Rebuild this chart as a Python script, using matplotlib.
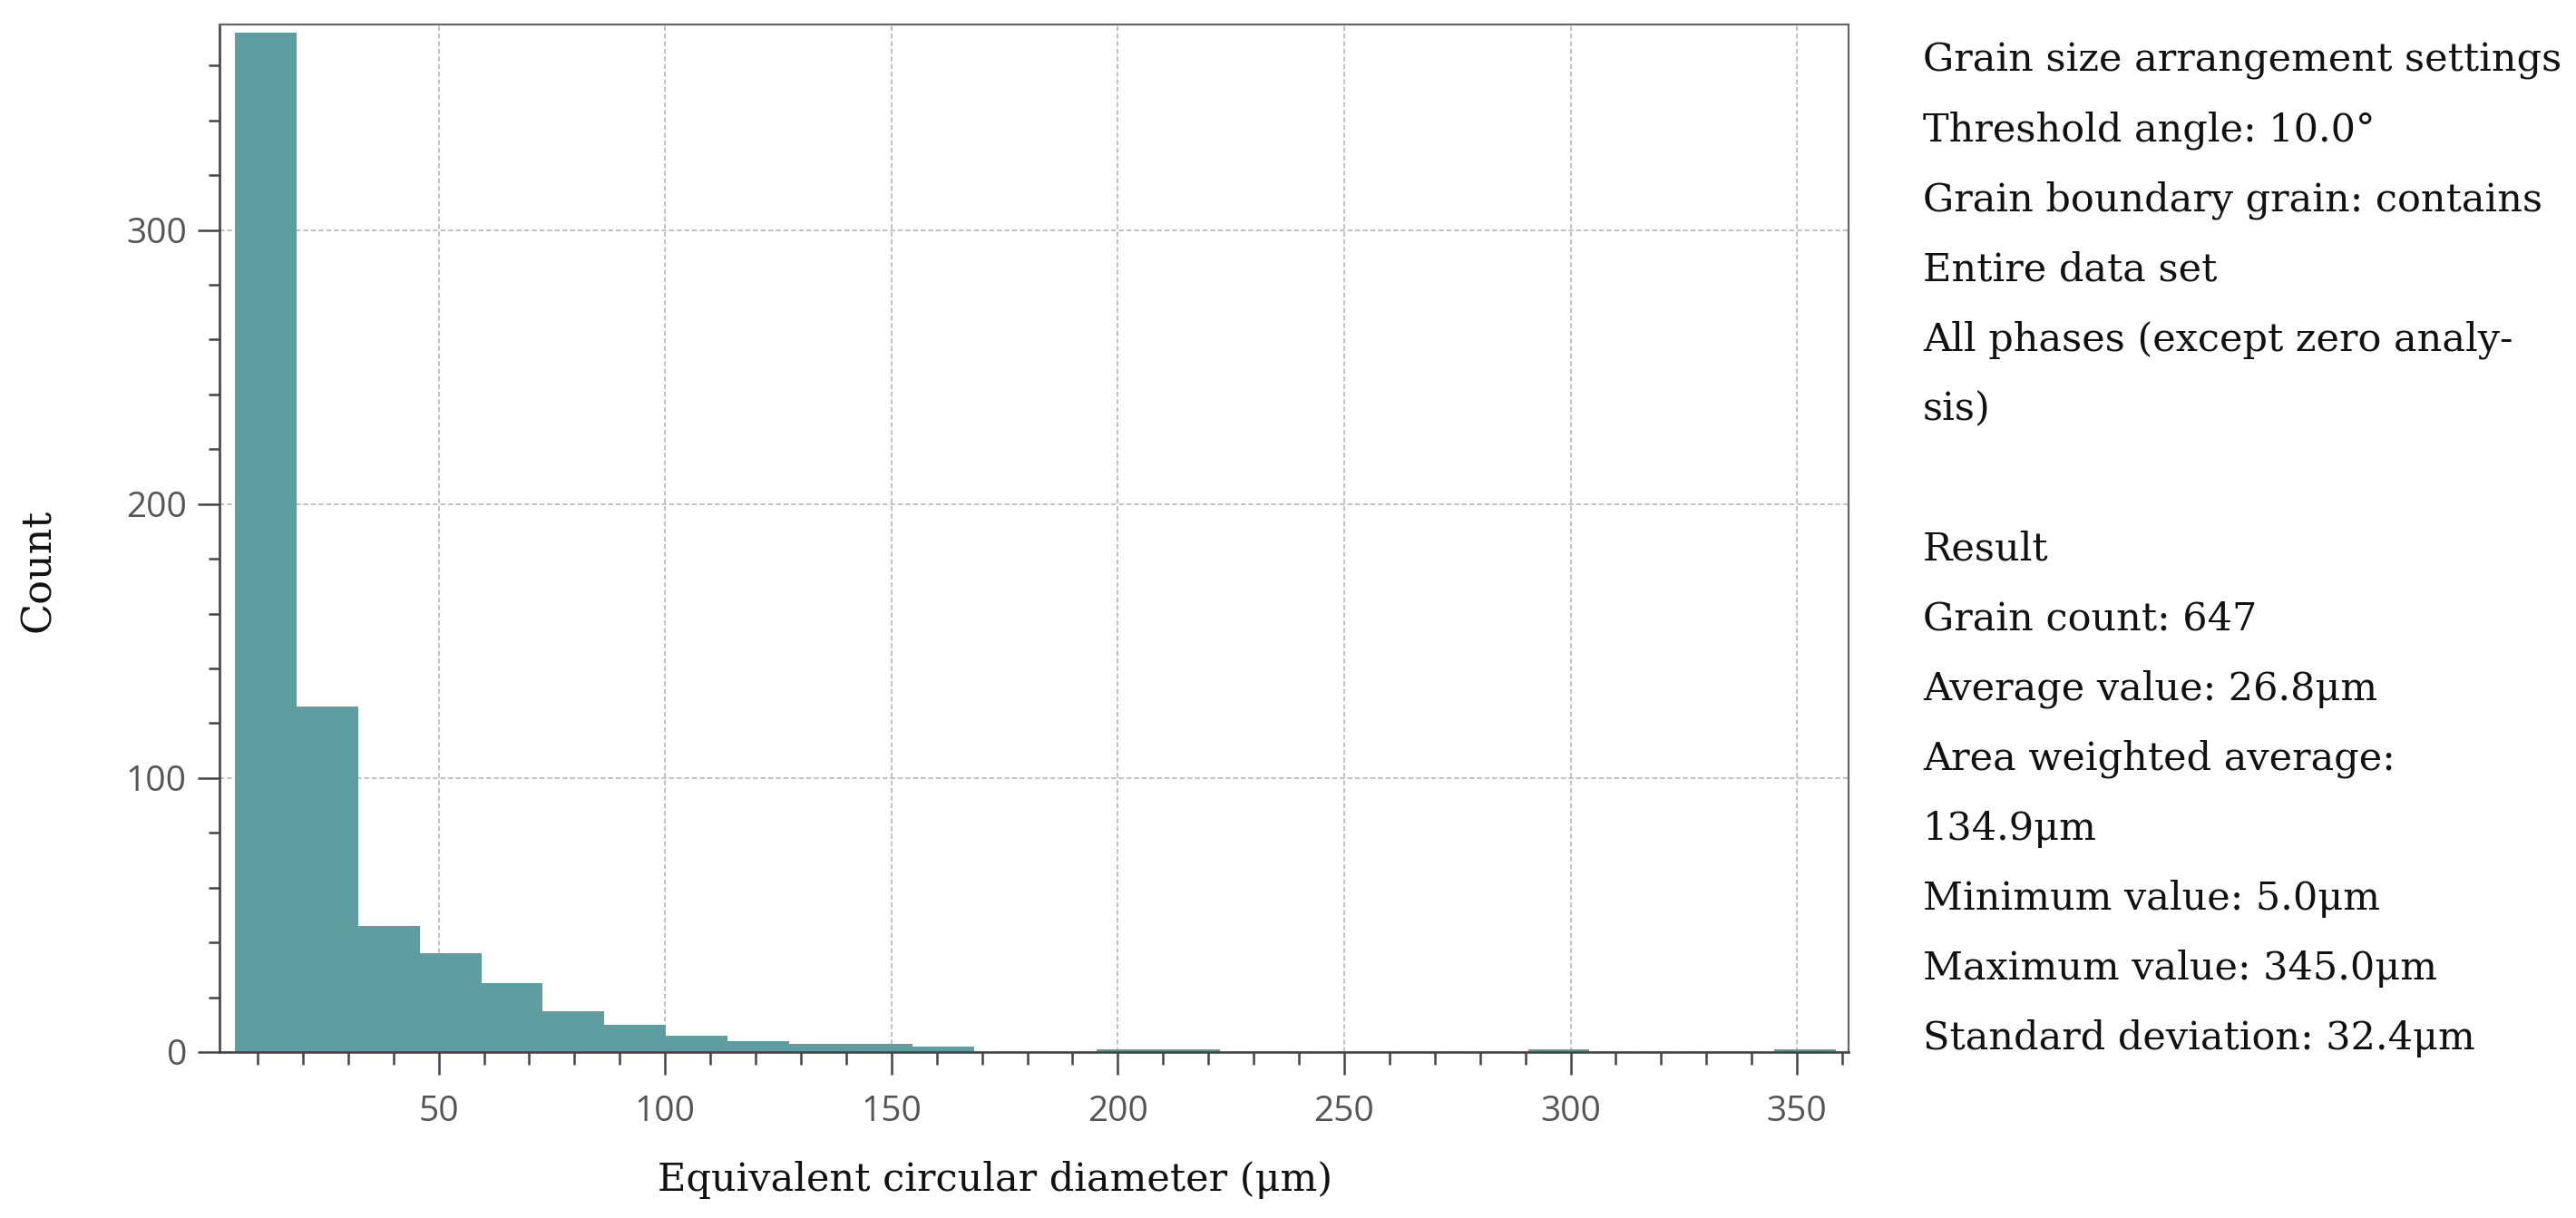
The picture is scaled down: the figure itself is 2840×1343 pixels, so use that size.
import numpy as np
import matplotlib.pyplot as plt
from matplotlib.ticker import MultipleLocator

# histogram of equivalent circular diameter, 26 bins starting at the minimum value
bin_start = 5.0
bin_width = 13.6
counts = [372, 126, 46, 36, 25, 15, 10, 6, 4, 3, 3, 2, 0, 0, 1, 1,
          0, 0, 0, 0, 0, 1, 0, 0, 0, 1]

x_ticks = [50, 100, 150, 200, 250, 300, 350]
y_ticks = [0, 100, 200, 300]

info_lines = [
    "Grain size arrangement settings",
    "Threshold angle: 10.0°",
    "Grain boundary grain: contains",
    "Entire data set",
    "All phases (except zero analy-",
    "sis)",
    "",
    "Result",
    "Grain count: 647",
    "Average value: 26.8μm",
    "Area weighted average:",
    "134.9μm",
    "Minimum value: 5.0μm",
    "Maximum value: 345.0μm",
    "Standard deviation: 32.4μm",
]

W, H = 2840, 1343
fig = plt.figure(figsize=(W / 100, H / 100), dpi=100)
ax = fig.add_axes([242 / W, 1 - 1160 / H, (2038 - 242) / W, (1160 - 27) / H])

edges = bin_start + bin_width * np.arange(len(counts) + 1)
ax.bar(edges[:-1], counts, width=np.diff(edges), align='edge',
       color='#5f9ea0', edgecolor='none', zorder=2)

ax.set_xlim(1.6, 361.4)
ax.set_ylim(0, 375)
ax.set_xticks(x_ticks)
ax.set_yticks(y_ticks)
ax.xaxis.set_minor_locator(MultipleLocator(10))
ax.yaxis.set_minor_locator(MultipleLocator(20))

ax.set_axisbelow(True)
ax.grid(True, which='major', color='#b0b0b0', linestyle=(0, (3.5, 2)), linewidth=1.1)

for side in ['left', 'bottom']:
    ax.spines[side].set_color('#444444')
    ax.spines[side].set_linewidth(1.9)
for side in ['top', 'right']:
    ax.spines[side].set_color('#666666')
    ax.spines[side].set_linewidth(1.6)

tick_font = {'family': ['Open Sans', 'DejaVu Sans'], 'size': 28}
ax.tick_params(axis='both', which='both', direction='out', color='#444444', width=1.8,
               labelcolor='#555555')
ax.tick_params(axis='x', which='major', length=18, pad=16)
ax.tick_params(axis='x', which='minor', length=10)
ax.tick_params(axis='y', which='major', length=17, pad=9)
ax.tick_params(axis='y', which='minor', length=9)
for lab in ax.get_xticklabels() + ax.get_yticklabels():
    lab.set_fontfamily(tick_font['family'])
    lab.set_fontsize(tick_font['size'])

serif = ['DejaVu Serif']
fig.text(1097 / W, 1 - 1313 / H, "Equivalent circular diameter (μm)", family=serif,
         fontsize=31, ha='center', va='baseline', color='#111111')
fig.text(42 / W, 1 - 629 / H, "Count", family=serif, fontsize=32, rotation=90,
         ha='center', va='center', color='#111111')

for i, line in enumerate(info_lines):
    fig.text(2120 / W, 1 - (78 + 77.1 * i) / H, line, family=serif, fontsize=31,
             ha='left', va='baseline', color='#111111')

fig.savefig('out.png', dpi=100)
